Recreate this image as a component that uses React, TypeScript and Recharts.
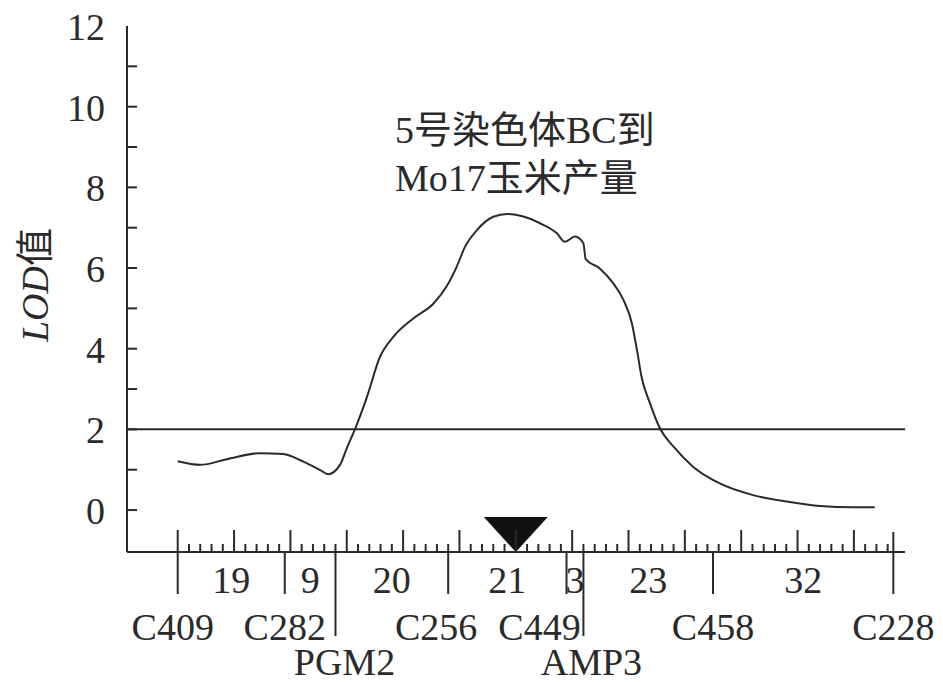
import { Line, LineChart, ReferenceDot, ReferenceLine, XAxis, YAxis } from "recharts"

// LOD profile along chromosome 5 (position in cM from C409, LOD)
const lodPos = [
  0, 4, 8.7, 14.6, 18.7, 22.3, 25.3, 26.7, 28.8, 30, 31.5, 33.5, 35.9, 38.3, 41.8, 45.4, 47.7, 49.5, 51, 53.1,
  56, 58.5, 61, 64.3, 67.3, 68.7, 70.5, 72, 72.4, 74.9, 77.3, 79.1, 80.6, 81.5, 82.3, 83.8, 85.6, 88, 91.5, 96.2,
  102.1, 108.1, 114, 119.9, 123.7,
]
const lodVal = [
  1.21, 1.12, 1.26, 1.41, 1.39, 1.2, 0.99, 0.89, 1.12, 1.53, 2.02, 2.77, 3.8, 4.3, 4.75, 5.12, 5.54, 6.03, 6.53, 6.94,
  7.27, 7.34, 7.29, 7.11, 6.86, 6.65, 6.78, 6.61, 6.22, 5.99, 5.62, 5.21, 4.63, 3.97, 3.31, 2.65, 2.02, 1.57, 1.07, 0.66,
  0.37, 0.21, 0.1, 0.07, 0.07,
]

// genetic map: markers and distances (cM) between neighbours
const markerNames = ["C409", "C282", "PGM2", "C256", "C449", "AMP3", "C458", "C228"]
const intervals = [19, 9, 20, 21, 3, 23, 32]
const lowerRow = ["PGM2", "AMP3"]

const peakPos = 60
const threshold = 2
const yTicks = [0, 1, 2, 3, 4, 5, 6, 7, 8, 9, 10, 11, 12]
const xTicks = Array.from({ length: 64 }, (_, i) => i * 2)
const titleLines = ["5号染色体BC到", "Mo17玉米产量"]

const W = 943
const H = 682
const ink = "#2a2a2a"
const font = '"Liberation Serif", "Times New Roman", "Noto Sans CJK SC", serif'
const fs = 38
const yMin = -1.04

// nudges for labels that sit off-centre in the figure
const labelShift: Record<string, number> = { C409: -5, PGM2: 9, C256: -12, C449: -27, AMP3: 8 }

const rows = lodPos.map((pos, i) => ({ pos, lod: lodVal[i] }))
const markerPos = markerNames.map((_, i) => intervals.slice(0, i).reduce((a, b) => a + b, 0))

function YTick(props: any) {
  const { x, y, payload } = props
  const v = payload.value
  return (
    <g>
      {v < 12 && <line x1={x + 22} x2={x + 32} y1={y} y2={y} stroke={ink} strokeWidth={2} />}
      {v % 2 === 0 && (
        <text x={x} y={y} dy={14} textAnchor="end" fontFamily={font} fontSize={fs} fill={ink}>
          {v}
        </text>
      )}
    </g>
  )
}

function XTick(props: any) {
  const { x, y, payload } = props
  const len = payload.value % 10 === 0 ? 22 : 8
  return <line x1={x} x2={x} y1={y} y2={y - len} stroke={ink} strokeWidth={2} />
}

const markerShape = (name: string, idx: number) => (p: any) => {
  const x = p.x1
  const base = Math.max(p.y1, p.y2)
  const low = lowerRow.includes(name)
  const top = idx === markerNames.length - 1 ? base - 20 : base
  return (
    <g>
      <line x1={x} x2={x} y1={top} y2={base + (low ? 84 : 42)} stroke={ink} strokeWidth={2} />
      <text
        x={x + (labelShift[name] ?? 0)}
        y={base + (low ? 123 : 88)}
        textAnchor="middle"
        fontFamily={font}
        fontSize={fs}
        fill={ink}
      >
        {name}
      </text>
    </g>
  )
}

const intervalShape = (d: number) => (p: any) => (
  <text x={p.x1} y={Math.max(p.y1, p.y2) + 41} textAnchor="middle" fontFamily={font} fontSize={fs} fill={ink}>
    {d}
  </text>
)

const triangle = (p: any) => (
  <path d={`M${p.cx - 32},${p.cy - 35} L${p.cx + 32},${p.cy - 35} L${p.cx},${p.cy} Z`} fill="#111" />
)

export default function App() {
  return (
    <div style={{ position: "absolute", left: 0, top: 0, width: W, height: H, background: "#fff" }}>
      <LineChart width={W} height={H} data={rows} margin={{ top: 26, right: 38, left: 67, bottom: 100 }}>
        <XAxis
          type="number"
          dataKey="pos"
          domain={[-9, 129.07]}
          ticks={xTicks}
          interval={0}
          height={30}
          tickSize={0}
          tickMargin={0}
          tickLine={false}
          axisLine={{ stroke: ink, strokeWidth: 2 }}
          tick={<XTick />}
          allowDataOverflow
        />
        <YAxis
          type="number"
          domain={[yMin, 12]}
          ticks={yTicks}
          interval={0}
          width={60}
          tickSize={0}
          tickMargin={22}
          tickLine={false}
          axisLine={{ stroke: ink, strokeWidth: 2 }}
          tick={<YTick />}
          allowDataOverflow
        />
        <ReferenceLine y={threshold} stroke={ink} strokeWidth={2} />
        {markerNames.map((name, i) => (
          <ReferenceLine key={name} x={markerPos[i]} shape={markerShape(name, i)} />
        ))}
        {intervals.map((d, i) => (
          <ReferenceLine key={"iv" + i} x={(markerPos[i] + markerPos[i + 1]) / 2} shape={intervalShape(d)} />
        ))}
        <Line
          type="monotone"
          dataKey="lod"
          stroke={ink}
          strokeWidth={2}
          dot={false}
          activeDot={false}
          isAnimationActive={false}
        />
        <ReferenceDot x={peakPos} y={yMin} shape={triangle} />
      </LineChart>
      <svg width={W} height={H} style={{ position: "absolute", left: 0, top: 0, pointerEvents: "none" }}>
        {titleLines.map((t, i) => (
          <text key={t} x={395} y={143 + i * 48} fontFamily={font} fontSize={fs} fill={ink}>
            {t}
          </text>
        ))}
        <text transform="translate(48, 285) rotate(-90)" textAnchor="middle" fontFamily={font} fontSize={fs} fill={ink}>
          <tspan fontStyle="italic">LOD</tspan>
          <tspan>值</tspan>
        </text>
      </svg>
    </div>
  )
}
